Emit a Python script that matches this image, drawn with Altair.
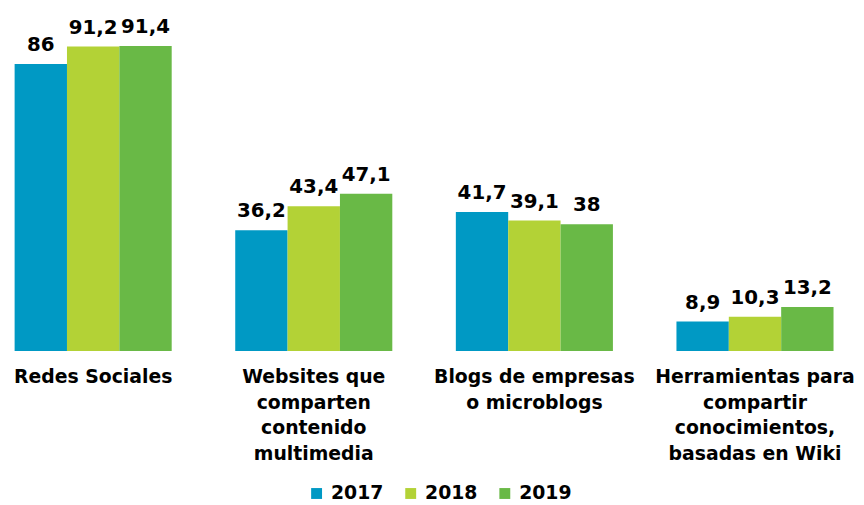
import altair as alt
import pandas as pd

categories = [
    "Redes Sociales",
    "Websites que|comparten|contenido|multimedia",
    "Blogs de empresas|o microblogs",
    "Herramientas para|compartir|conocimientos,|basadas en Wiki",
]
years = ["2017", "2018", "2019"]
v2017 = [86, 36.2, 41.7, 8.9]
v2018 = [91.2, 43.4, 39.1, 10.3]
v2019 = [91.4, 47.1, 38, 13.2]
colors = ["#0099C4", "#B3D236", "#69B946"]

rows = []
for i, c in enumerate(categories):
    for y, vals in zip(years, [v2017, v2018, v2019]):
        rows.append({"cat": c, "year": y, "value": vals[i]})
df = pd.DataFrame(rows)

FONT = "DejaVu Sans"

x = alt.X("cat:N", sort=categories, title=None,
          scale=alt.Scale(paddingInner=0.288, paddingOuter=0.03),
          axis=alt.Axis(labelExpr="split(datum.label, '|')", labelAngle=0,
                        labelAlign="center", labelBaseline="top",
                        labelFont=FONT, labelFontWeight="bold", labelFontSize=19,
                        labelColor="#000000", labelLineHeight=25.7,
                        labelPadding=17, ticks=False, tickSize=0, domain=False,
                        labelOverlap=False, labelLimit=0, grid=False))
xo = alt.XOffset("year:N", sort=years, scale=alt.Scale(paddingInner=0, paddingOuter=0))
y = alt.Y("value:Q", title=None, scale=alt.Scale(domain=[0, 100]), axis=None)

bars = alt.Chart(df).mark_bar().encode(
    x=x, xOffset=xo, y=y,
    color=alt.Color("year:N", sort=years, scale=alt.Scale(domain=years, range=colors),
                    legend=alt.Legend(title=None, orient="none", direction="horizontal",
                                      legendX=302, legendY=471, padding=0,
                                      symbolType="square", symbolSize=121,
                                      symbolStrokeWidth=0, labelOffset=5,
                                      columnPadding=18,
                                      labelFont=FONT, labelFontWeight="bold",
                                      labelFontSize=19, labelColor="#000000")),
)

labels = alt.Chart(df).transform_calculate(
    lab="replace(format(datum.value, '.1~f'), '.', ',')"
).mark_text(font=FONT, fontWeight="bold", fontSize=20, dy=-13,
            baseline="alphabetic", align="center", color="#000000").encode(
    x=x, xOffset=xo, y=y, text="lab:N"
)

chart = alt.layer(bars, labels).properties(
    width=840, height=337,
    autosize=alt.AutoSizeParams(type="none"),
    padding={"left": 0, "top": 7, "right": 16, "bottom": 150},
).configure_view(stroke=None)

chart.save("out.html", embed_options={"renderer": "svg", "actions": False})
